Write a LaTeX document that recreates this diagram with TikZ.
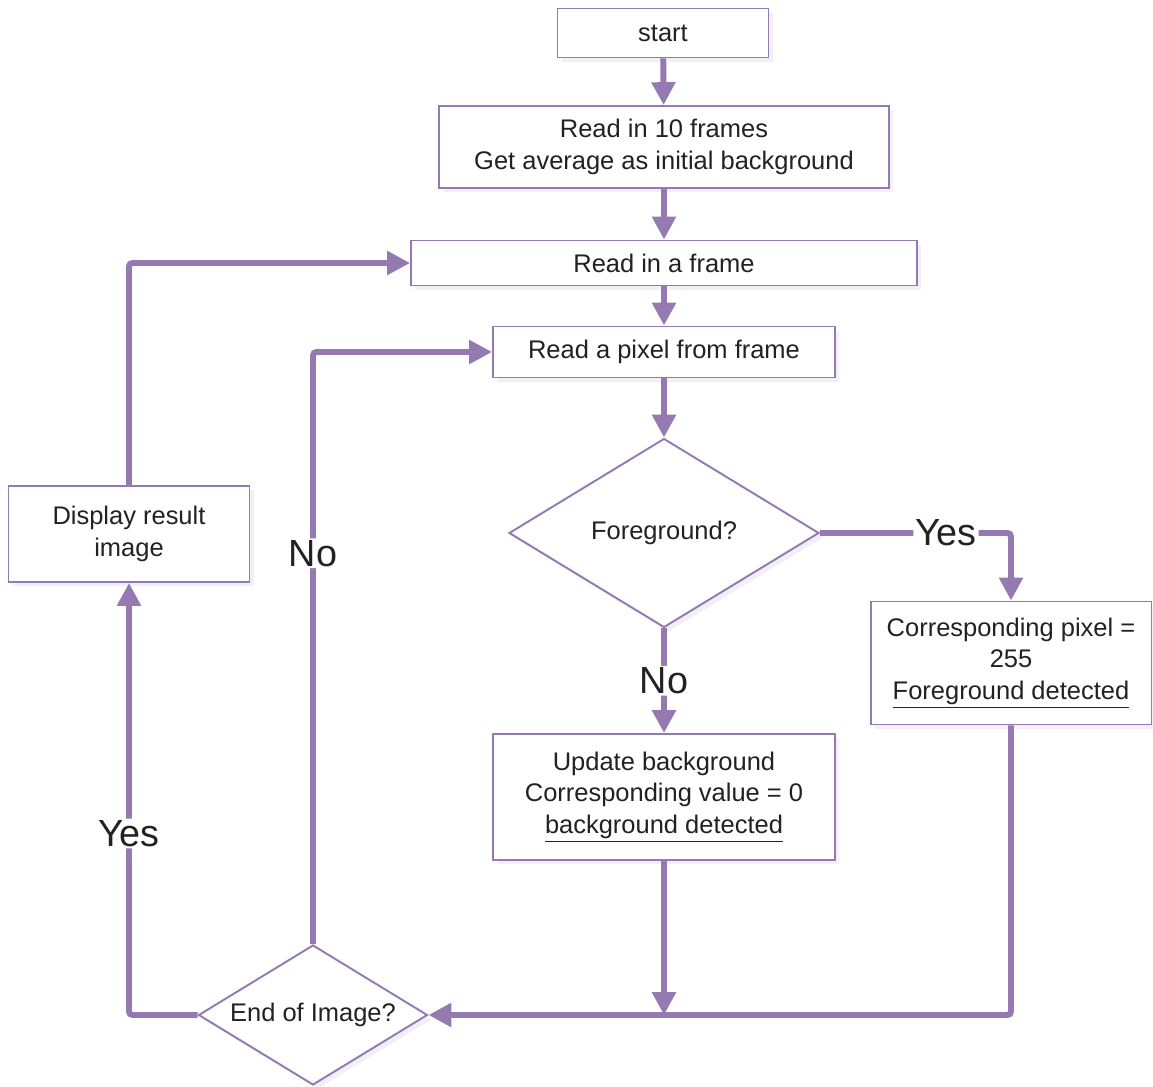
\documentclass[tikz,border=0pt]{standalone}
\usepackage{fontspec}
\setmainfont{Liberation Sans}
\usepackage{xcolor}
\usetikzlibrary{arrows.meta, positioning, shapes.geometric, shadows}

\definecolor{flowpurple}{RGB}{148,122,176}
\definecolor{flowtext}{RGB}{34,34,34}

\begin{document}
\begin{tikzpicture}[
    x=0.02cm, y=-0.02cm,
    box/.style={
        rectangle,
        draw=flowpurple,
        line width=1.1pt,
        fill=white,
        align=center,
        text=flowtext,
        font=\fontsize{14.5}{18}\selectfont,
        drop shadow={shadow xshift=2.5pt, shadow yshift=-2.5pt, fill=flowpurple!12, opacity=1}
    },
    decision/.style={
        box,
        diamond,
        aspect=1.64,
        inner sep=0pt
    },
    arrow/.style={-{Triangle[length=13pt, width=13pt]}, line width=3.4pt, draw=flowpurple, rounded corners=2pt},
    answer/.style={fill=white, text=flowtext, inner sep=1pt, font=\fontsize{21.5}{26}\selectfont}
]
\useasboundingbox (0,0) rectangle (1153,1087);

\node[box, minimum width=4.22cm, minimum height=0.98cm] (start) at (663,33) {start};
\node[box, minimum width=9.0cm, minimum height=1.64cm] (avg) at (664,147) {Read in 10 frames\\Get average as initial background};
\node[box, minimum width=10.12cm, minimum height=0.9cm] (frame) at (664,263) {Read in a frame};
\node[box, minimum width=6.84cm, minimum height=1.02cm] (pixel) at (664,352) {Read a pixel from frame};
\node[decision, minimum width=6.2cm, minimum height=3.78cm] (fg) at (664,533) {Foreground?};
\node[box, minimum width=5.62cm, minimum height=2.46cm] (fgdet) at (1011,663) {Corresponding pixel =\\255\\\underline{Foreground detected}};
\node[box, minimum width=6.84cm, minimum height=2.52cm] (bgdet) at (664,797) {Update background\\Corresponding value = 0\\\underline{background detected}};
\node[decision, minimum width=4.58cm, minimum height=2.8cm] (eoi) at (313,1015) {End of Image?};
\node[box, minimum width=4.82cm, minimum height=1.92cm] (disp) at (129,534) {Display result\\image};

\draw[arrow] (start) -- (avg);
\draw[arrow] (avg) -- (frame);
\draw[arrow] (frame) -- (pixel);
\draw[arrow] (pixel) -- (fg);
\draw[arrow] (fg.east) -| node[answer, pos=0.33] {Yes} (fgdet.north);
\draw[arrow] (fg.south) -- node[answer] {No} (bgdet.north);
\draw[arrow] (fgdet.south) |- (eoi.east);
\draw[arrow] (bgdet.south) -- (bgdet.south |- eoi.east);
\draw[arrow] (eoi.north) |- node[answer, pos=0.33] {No} (pixel.west);
\draw[arrow] (eoi.west) -| node[answer, pos=0.71] {Yes} (disp.south);
\draw[arrow] (disp.north) |- (frame.west);

\end{tikzpicture}
\end{document}
